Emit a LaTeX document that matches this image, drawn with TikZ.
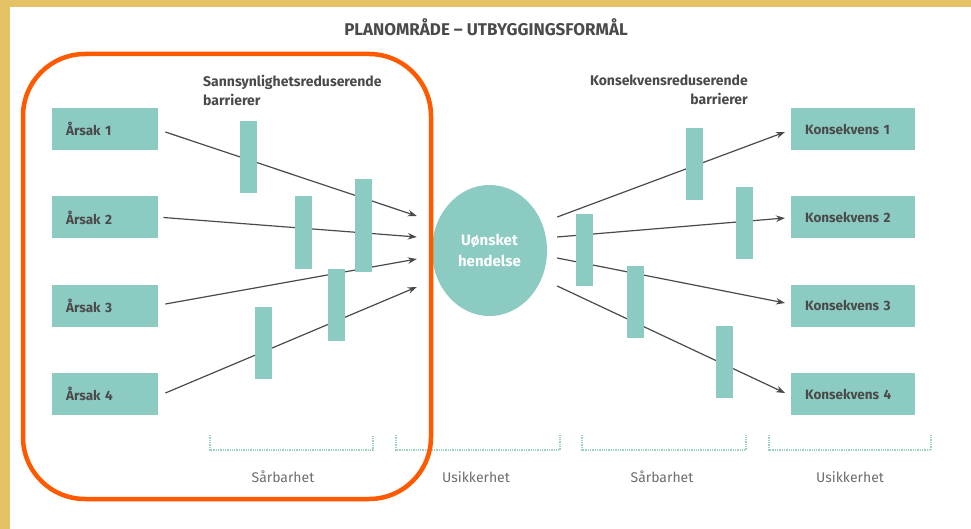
\documentclass[tikz,border=0pt]{standalone}
\usepackage{fontspec}
\setmainfont{Fira Sans}
\usetikzlibrary{arrows.meta,positioning,shapes.geometric}

\definecolor{barteal}{HTML}{8BCBC1}
\definecolor{textgray}{HTML}{4A4A4A}
\definecolor{softgray}{HTML}{6E6E6E}
\definecolor{framegold}{HTML}{E6C266}
\definecolor{frameorange}{HTML}{FF5A00}
\definecolor{dotteal}{HTML}{9ACFC6}

\begin{document}
\begin{tikzpicture}[x=1pt, y=-1pt,
    box/.style={fill=barteal, minimum height=42pt, inner xsep=14pt, inner ysep=0pt,
        align=left, anchor=west, text=textgray,
        font=\fontsize{13.5}{16}\selectfont\bfseries}, % Stil for boksene
    causebox/.style={box, text width=78pt}, % Årsaker til venstre
    effectbox/.style={box, text width=96pt}, % Konsekvenser til høyre
    barrier/.style={fill=barteal, minimum width=17pt, minimum height=72pt, inner sep=0pt}, % Barrierer
    flow/.style={draw=textgray, line width=1.2pt, -{Stealth[length=9pt,width=6.5pt]}}, % Piler
    bracket/.style={draw=dotteal, line width=1.3pt, densely dotted}, % Klammer nederst
    caption/.style={text=softgray, font=\fontsize{14}{17}\selectfont, inner sep=0pt} % Tekst nederst
]

    % Bakgrunn og ramme
    \useasboundingbox (0,0) rectangle (971,529);
    \fill[framegold] (0,0) rectangle (971,529);
    \fill[white] (10,7) rectangle (971,529);

    % Tittel
    \node[text=textgray, font=\fontsize{17}{20}\selectfont\bfseries] (title) at (486,27)
        {PLANOMRÅDE – UTBYGGINGSFORMÅL};

    % Overskrifter for barrierene
    \node[anchor=north west, align=left, inner sep=0pt, text=textgray,
        font=\fontsize{14}{19}\selectfont\bfseries] (probhead) at (203,75)
        {Sannsynlighetsreduserende\\barrierer};
    \node[anchor=north east, align=right, inner sep=0pt, text=textgray,
        font=\fontsize{14}{19}\selectfont\bfseries] (conshead) at (748,75)
        {Konsekvensreduserende\\barrierer};

    % Årsaker
    \node[causebox] (a1) at (52,129) {Årsak 1};
    \node[causebox] (a2) at (52,217.5) {Årsak 2};
    \node[causebox] (a3) at (52,305.5) {Årsak 3};
    \node[causebox] (a4) at (52,394) {Årsak 4};

    % Konsekvenser
    \node[effectbox] (k1) at (791,129) {Konsekvens 1};
    \node[effectbox] (k2) at (791,217.5) {Konsekvens 2};
    \node[effectbox] (k3) at (791,305.5) {Konsekvens 3};
    \node[effectbox] (k4) at (791,394) {Konsekvens 4};

    % Uønsket hendelse
    \node[ellipse, fill=barteal, minimum width=115pt, minimum height=131pt, inner sep=0pt,
        align=center, text=white, font=\fontsize{15}{21}\selectfont\bfseries] (ev)
        at (489.5,250.5) {Uønsket\\hendelse};

    % Piler inn mot hendelsen
    \draw[flow] ([shift={(7,3)}]a1.east) -- ([shift={(-15,-34.5)}]ev.west);
    \draw[flow] ([shift={(5,0)}]a2.east) -- ([shift={(-15,-13.5)}]ev.west);
    \draw[flow] ([shift={(7,-1.5)}]a3.east) -- ([shift={(-15,8.5)}]ev.west);
    \draw[flow] ([shift={(7,-1)}]a4.east) -- ([shift={(-15,36.5)}]ev.west);

    % Piler ut fra hendelsen
    \draw[flow] ([shift={(10,-33.5)}]ev.east) -- ([shift={(-6,3)}]k1.west);
    \draw[flow] ([shift={(10,-13.5)}]ev.east) -- ([shift={(-6,0.5)}]k2.west);
    \draw[flow] ([shift={(10,7.5)}]ev.east) -- ([shift={(-6,-2.5)}]k3.west);
    \draw[flow] ([shift={(10,35.5)}]ev.east) -- ([shift={(-6,-1)}]k4.west);

    % Sannsynlighetsreduserende barrierer
    \node[barrier] (p1) at (248.5,157) {};
    \node[barrier] (p2) at (303.5,232.5) {};
    \node[barrier, minimum height=93pt] (p3) at (363,225.5) {};
    \node[barrier] (p4) at (336.5,305) {};
    \node[barrier] (p5) at (263.5,343) {};

    % Konsekvensreduserende barrierer
    \node[barrier] (c1) at (694.5,164.5) {};
    \node[barrier] (c2) at (744.5,223) {};
    \node[barrier] (c3) at (584.5,250) {};
    \node[barrier] (c4) at (635.5,302) {};
    \node[barrier] (c5) at (724.5,362) {};

    % Klammer og tekst nederst
    \foreach \xa/\xb/\xt/\txt in {210/373/283/Sårbarhet, 396/560/476/Usikkerhet,
                                  582/746/662/Sårbarhet, 769/931/850/Usikkerhet}{
        \draw[bracket] (\xa,435) -- (\xa,450) -- (\xb,450) -- (\xb,435);
        \node[caption, anchor=base] (cap\xa) at (\xt,482) {\txt};
    }

    % Planområde (oransje ramme)
    \draw[frameorange, line width=4.5pt, rounded corners=62pt] (23,54) rectangle (431,499);

\end{tikzpicture}
\end{document}
